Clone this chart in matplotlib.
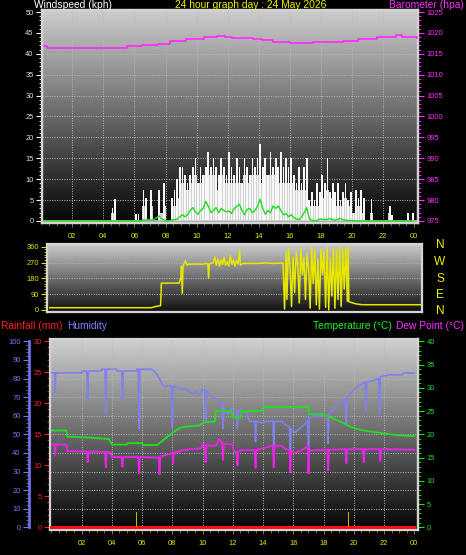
import numpy as np
import matplotlib
matplotlib.use('Agg')
import matplotlib.pyplot as plt
from matplotlib.ticker import MultipleLocator, FixedLocator

plt.rcParams['font.family'] = ['Liberation Sans', 'DejaVu Sans']

# ---------------- data ----------------
hour_ticks = [2, 4, 6, 8, 10, 12, 14, 16, 18, 20, 22, 24]
hour_labels = ['02', '04', '06', '08', '10', '12', '14', '16', '18', '20', '22', '00']

# 10-minute wind gust (kph), 6 per hour, 00h..23h
gust_kph = [
    0, 0, 0, 0, 0, 0,
    0, 0, 0, 0, 0, 0,
    0, 0, 0, 0, 0, 0,
    0, 0, 0, 0, 0, 0,
    0, 0, 0, 3.2, 5.2, 0,
    0, 0, 0, 0, 0, 0,
    1.6, 1.6, 0, 7.3, 5.5, 0,
    7.3, 0, 0, 7.3, 0, 9,
    0, 0, 5.5, 7.3, 10, 13,
    13, 11, 9, 11, 13, 15,
    9, 13, 11, 13, 16.5, 13,
    15, 13, 11, 15, 13, 11,
    16.5, 13, 11, 15, 13, 9,
    15, 13, 11, 15, 13, 15,
    18.5, 13, 15, 11, 16.5, 13,
    15, 13, 16.5, 13, 15, 13,
    15, 11, 9, 13, 9, 13,
    15, 5, 7, 5, 9, 7,
    11, 9, 15, 7, 9, 7,
    9, 5, 7, 9, 5, 7,
    2, 7.3, 5.5, 7.3, 5.5, 0,
    0, 5.3, 0, 0, 0, 0,
    0, 0, 3.5, 1.5, 0, 0,
    0, 0, 0, 1.8, 0, 1.8,
]
# 10-minute wind speed (kph)
wind_kph = [
    0, 0, 0, 0, 0, 0,
    0, 0, 0, 0, 0, 0,
    0, 0, 0, 0, 0, 0,
    0, 0, 0, 0, 0, 0,
    0, 0, 0, 1.8, 2, 0,
    0, 0, 0, 0, 0, 0,
    0, 0, 0, 3.5, 3.5, 0,
    3.5, 0, 0, 3.5, 1.8, 3.5,
    0, 0, 3.5, 3.5, 5.5, 7.3,
    9, 7.3, 7.3, 9, 9, 11,
    7.3, 9, 9, 11, 11, 9,
    11, 9, 7.3, 11, 9, 9,
    11, 9, 9, 11, 9, 7.3,
    11, 9, 9, 11, 9, 11,
    11, 9, 11, 9, 11, 9,
    11, 9, 11, 9, 11, 9,
    9, 7.3, 7.3, 9, 7.3, 9,
    7.3, 3.5, 3.5, 3.5, 5.5, 3.5,
    5.5, 5.5, 7.3, 3.5, 5.5, 3.5,
    5.5, 3.5, 3.5, 5.5, 3.5, 3.5,
    1.8, 3.5, 3.5, 3.5, 1.8, 0,
    0, 1.8, 0, 0, 0, 0,
    0, 0, 1.8, 0, 0, 0,
    0, 0, 0, 0, 0, 0,
]
# 10-minute average wind (kph)
avg_kph = [
    0, 0, 0, 0, 0, 0,
    0, 0, 0, 0, 0, 0,
    0, 0, 0, 0, 0, 0,
    0, 0, 0, 0, 0, 0,
    0, 0, 0, 0, 0, 0,
    0, 0, 0, 0, 0, 0,
    0, 0, 0, 0.3, 0.2, 0.3,
    0.2, 0.3, 0.8, 1.2, 0.5, 0.2,
    0, 0, 0.3, 0.3, 0.5, 1.0,
    1.5, 1.0, 1.5, 2.5, 3.2, 2.2,
    1.6, 2.5, 3.0, 4.7, 3.5, 2.0,
    2.5, 3.2, 2.0, 3.0, 2.5, 2.2,
    2.4, 1.8, 3.0, 3.5, 4.0, 2.5,
    1.5, 2.8, 3.0, 2.0, 2.5, 3.5,
    5.2, 3.0, 1.6, 2.5, 2.0, 3.6,
    3.0, 3.6, 2.5, 1.5, 1.8, 1.0,
    1.5, 0.8, 0.5, 0.3, 1.0, 2.0,
    3.2, 0.5, 0.2, 0.1, 0.1, 0.5,
    0.4, 0.3, 0.4, 0.6, 0.3, 0.2,
    0.4, 0.6, 0.3, 0.2, 0.1, 0.1,
    0.1, 0, 0, 0, 0, 0,
    0, 0, 0, 0, 0, 0,
    0, 0, 0, 0, 0, 0,
    0, 0, 0, 0, 0, 0,
]
ten_min_hours = np.arange(len(gust_kph)) / 6.0 + 1 / 12.0

baro_hours = [0.15, 0.4, 4.5, 5.0, 5.5, 6.5, 7.5, 8.3, 9.3, 10.5, 11.3, 11.8, 12.3,
              13.6, 14.2, 14.9, 16.0, 17.5, 18.8, 19.4, 20.4, 21.6, 22.8, 23.2, 24.2]
baro_hpa = [1016.8, 1016.5, 1016.5, 1016.5, 1016.8, 1017.0, 1017.4, 1018.0, 1018.6,
            1019.0, 1019.3, 1019.1, 1018.9, 1018.6, 1018.2, 1017.8, 1017.7, 1017.8,
            1017.8, 1018.0, 1018.6, 1019.1, 1019.4, 1019.0, 1018.9]

dir_hours = [0.05, 6.6, 6.9, 7.2, 7.25, 8.4, 8.5, 8.55, 8.6, 8.65, 8.8, 8.9, 9.0, 10.0,
             10.1, 10.25, 10.3, 10.35, 10.6, 10.7, 10.8, 10.9, 11.0, 11.1, 11.2, 11.3,
             11.4, 11.5, 11.6, 11.7, 11.8, 11.9, 12.0, 12.1, 12.2, 12.3, 12.35, 12.5,
             13.5, 14.0, 14.5, 15.1, 15.2,
             15.3, 15.35, 15.45, 15.55, 15.65, 15.75, 15.85, 15.95, 16.05, 16.15,
             16.25, 16.35, 16.45, 16.55, 16.65, 16.75, 16.85, 16.95, 17.05, 17.15,
             17.25, 17.35, 17.45, 17.55, 17.65, 17.75, 17.85, 17.95, 18.05, 18.15,
             18.25, 18.35, 18.45, 18.55, 18.65, 18.75, 18.85, 18.95, 19.05, 19.15,
             19.25, 19.3, 19.35, 19.8, 20.2, 24.0]
dir_deg = [13, 13, 20, 25, 153, 153, 180, 250, 95, 250, 280, 255, 261, 261,
           265, 262, 180, 262, 270, 300, 255, 290, 250, 285, 260, 300,
           255, 275, 250, 310, 260, 285, 250, 280, 262, 340, 255, 265,
           265, 268, 265, 268, 5,
           330, 60, 350, 250, 20, 300, 100, 330, 270, 40,
           350, 200, 300, 60, 320, 240, 10, 360, 150, 340,
           30, 290, 5, 350, 200, 330, 15, 355, 0, 300,
           80, 350, 10, 340, 60, 360, 20, 345, 120, 355,
           50, 360, 47, 35, 30, 30]

hum_hours = [0.0, 0.22, 0.25, 0.28, 2.0, 2.05, 2.35, 2.4, 2.45, 3.3, 3.35, 3.55, 3.6, 3.65,
             4.3, 4.35, 4.65, 4.7, 4.75, 5.6, 5.65, 5.75, 5.8, 5.85, 6.6, 6.8, 7.0, 7.2,
             7.4, 7.95, 8.0, 8.05, 8.4, 8.9, 9.1, 9.4, 9.6, 9.8, 10.0, 10.15, 10.2, 10.25,
             10.5, 10.9, 11.2, 11.3, 11.35, 11.4, 11.5, 11.7, 11.9, 12.2, 12.3, 12.35,
             12.6, 12.9, 13.1, 13.45, 13.5, 13.55, 14.0, 14.2, 14.65, 14.7, 14.75, 15.2,
             15.5, 15.75, 15.8, 15.85, 16.1, 16.4, 16.7, 16.95, 17.0, 17.05, 17.3, 17.8,
             18.25, 18.3, 18.35, 18.7, 19.1, 19.45, 19.5, 19.55, 20.0, 20.5, 20.75, 20.8,
             20.85, 21.3, 21.65, 21.7, 21.75, 22.4, 23.2, 23.3, 24.0]
hum_pct = [83, 83, 72.5, 83, 83, 84, 84, 69, 84, 84, 85, 85, 61, 85,
           85, 84, 84, 69, 84, 84, 85, 85, 53, 85, 85, 84, 82, 79,
           76, 76, 54, 76, 74.5, 74.5, 73, 72, 73, 71, 74, 74, 57, 73,
           71, 69, 67, 66, 53, 65, 62, 61, 64, 63, 53, 63,
           62, 62, 57, 57, 46, 57, 56, 57, 57, 43, 57, 57,
           55, 54, 36, 53, 51, 53, 55, 57, 39, 59, 60, 60,
           60, 45, 61, 64, 67, 69, 55, 70, 74, 77, 78, 62,
           78, 79, 80, 61, 81, 82, 82, 83, 83]

temp_hours = [0.0, 1.0, 1.05, 2.5, 3.8, 4.0, 5.0, 5.05, 6.0, 6.05, 7.0, 7.5, 8.0, 8.5,
              9.0, 9.8, 10.1, 10.8, 10.85, 11.9, 12.0, 12.5, 12.6, 13.9, 14.0, 17.0,
              17.05, 17.8, 18.5, 19.2, 19.8, 20.5, 21.5, 22.9, 24.0]
temp_c = [20.8, 20.8, 19.5, 19.3, 19.0, 17.8, 17.8, 18.1, 18.1, 17.7, 17.7, 19.0, 20.3, 21.4,
          21.7, 21.9, 22.6, 22.7, 25.0, 25.0, 23.7, 23.6, 25.0, 25.0, 25.9, 25.9,
          24.3, 24.4, 23.6, 22.6, 21.6, 20.9, 20.4, 19.8, 19.6]

dew_hours = [0.0, 0.22, 0.25, 0.28, 1.0, 1.05, 2.35, 2.4, 2.45, 3.55, 3.6, 3.65, 3.9, 4.0,
             4.65, 4.7, 4.75, 5.75, 5.8, 5.85, 7.1, 7.15, 7.2, 7.6, 8.0, 8.05, 8.1, 8.6,
             9.2, 9.9, 10.0, 10.15, 10.2, 10.25, 10.6, 10.9, 11.1, 11.3, 11.35, 11.4,
             11.6, 12.0, 12.05, 12.25, 12.3, 12.35, 12.6, 13.45, 13.5, 13.55, 14.2,
             14.65, 14.7, 14.75, 15.2, 15.5, 15.75, 15.8, 15.85, 16.1, 16.5, 16.95,
             17.0, 17.05, 18.25, 18.3, 18.35, 19.45, 19.5, 19.55, 20.6, 20.65, 20.7,
             21.7, 21.75, 21.8, 24.0]
dew_c = [17.8, 17.8, 15.6, 17.8, 17.8, 16.4, 16.3, 14.0, 16.3, 16.2, 12.9, 16.2, 16.2, 15.1,
         15.1, 13.0, 15.1, 15.1, 11.6, 15.1, 15.0, 11.4, 15.2, 15.6, 16.0, 13.8, 16.1, 16.5,
         16.8, 17.0, 18.0, 17.6, 14.0, 17.7, 17.5, 17.6, 19.0, 18.0, 14.5, 18.0,
         17.9, 17.8, 16.3, 16.2, 13.3, 16.3, 16.6, 16.6, 12.8, 16.6, 17.2,
         17.6, 12.9, 17.5, 17.6, 16.8, 16.6, 11.8, 16.4, 16.0, 16.5, 17.4,
         11.6, 16.5, 16.7, 12.2, 16.7, 16.8, 13.8, 16.8, 16.8, 14.0, 16.8,
         16.8, 14.3, 16.8, 16.7]

rain_hours = [0.0, 24.0]
rain_mm = [0.0, 0.0]
rate_hours = [5.62, 19.66]
rate_vals = [2.5, 2.5]

# ---------------- figure ----------------
W, H = 466, 555
fig = plt.figure(figsize=(W / 100, H / 100), dpi=100, facecolor='black')


def rect(x0, y0, x1, y1):
    return [x0 / W, 1 - y1 / H, (x1 - x0) / W, (y1 - y0) / H]


def gradient(ax, top=0.80, bottom=0.02):
    g = np.linspace(bottom, top, 256).reshape(-1, 1)
    ax.imshow(g, extent=(0, 1, 0, 1), transform=ax.transAxes, origin='lower',
              cmap='gray', vmin=0, vmax=1, aspect='auto', zorder=0, interpolation='bilinear')


def frame(ax, color='#d4d4d4', lw=1.6):
    for s in ax.spines.values():
        s.set_color(color)
        s.set_linewidth(lw)


GRID = dict(color='#b8b8b8', lw=0.7, ls=(0, (1, 1.5)), zorder=1)
TS = 5.4  # tick label size

# ---------- panel 1 : wind + barometer ----------
ax1 = fig.add_axes(rect(42, 10, 418, 223))
ax1.set_facecolor('black')
gradient(ax1)
for y in range(5, 50, 5):
    ax1.axhline(y, **GRID)
for x in hour_ticks[:-1]:
    ax1.axvline(x, **GRID)
ax1.bar(ten_min_hours, wind_kph, width=1 / 6, color='#d2d2d2', zorder=2, linewidth=0)
ax1.bar(ten_min_hours, gust_kph, width=0.11, color='#f8f8f8', zorder=3, linewidth=0)
ax1.axhline(0, color='#c8c8c8', lw=1.2, zorder=3)
ax1.axhline(-0.4, color='#a8e8a8', lw=1.2, zorder=3)
ax1.plot(ten_min_hours, avg_kph, color='#18e018', lw=1.0, zorder=4)
ax1.set_xlim(0.05, 24.24)
ax1.set_ylim(-0.48, 50.48)
ax1.yaxis.set_major_locator(MultipleLocator(5))
ax1.yaxis.set_minor_locator(MultipleLocator(1))
ax1.tick_params(axis='y', which='major', colors='white', labelcolor='#d4e6ff',
                labelsize=TS, length=4, width=0.8, pad=2)
ax1.tick_params(axis='y', which='minor', colors='white', length=2, width=0.6)
ax1.xaxis.set_major_locator(FixedLocator(hour_ticks))
ax1.set_xticklabels(hour_labels)
ax1.xaxis.set_minor_locator(MultipleLocator(0.5))
ax1.tick_params(axis='x', which='major', colors='#909090', labelcolor='#e8e800',
                labelsize=TS, length=3, width=0.6, pad=4)
ax1.tick_params(axis='x', which='minor', colors='#909090', length=2, width=0.5)
frame(ax1)

ax1b = ax1.twinx()
ax1b.plot(baro_hours, baro_hpa, color='#ff28ff', lw=1.2, drawstyle='steps-post', zorder=5)
ax1b.set_ylim(974.52, 1025.48)
ax1b.yaxis.set_major_locator(MultipleLocator(5))
ax1b.yaxis.set_minor_locator(MultipleLocator(1))
ax1b.tick_params(axis='y', which='major', colors='#ff30ff', labelcolor='#ff30ff',
                 labelsize=TS, length=4, width=0.8, pad=2)
ax1b.tick_params(axis='y', which='minor', colors='#ff30ff', length=2, width=0.6)
frame(ax1b)

# ---------- panel 2 : wind direction ----------
ax2 = fig.add_axes(rect(47.3, 244.3, 421.7, 312.3))
ax2.set_facecolor('black')
gradient(ax2, top=0.80, bottom=0.06)
for y in (90, 180, 270, 360):
    ax2.axhline(y, **GRID)
ax2.plot(dir_hours, dir_deg, color='#e6e600', lw=1.1, zorder=3)
ax2.set_xlim(-0.11, 24.05)
ax2.set_ylim(-13.1, 373.7)
ax2.yaxis.set_major_locator(FixedLocator([0, 90, 180, 270, 360]))
ax2.yaxis.set_minor_locator(MultipleLocator(15))
ax2.tick_params(axis='y', which='major', colors='#e6e600', labelcolor='#e6e600',
                labelsize=TS, length=4, width=0.8, pad=2)
ax2.tick_params(axis='y', which='minor', colors='#e6e600', length=2, width=0.6)
ax2.set_xticks([])
frame(ax2)
for lab, y in zip(['N', 'W', 'S', 'E', 'N'], [245, 262, 278.5, 295, 311]):
    fig.text(440 / W, 1 - y / H, lab, color='#f0f000', fontsize=8.6,
             ha='center', va='center')

# ---------- panel 3 : humidity / temperature / dew point / rain ----------
ax3 = fig.add_axes(rect(50, 339, 418, 530))
ax3.set_facecolor('black')
gradient(ax3, top=0.81, bottom=0.02)
for y in range(10, 100, 10):
    ax3.axhline(y, **GRID)
for x in hour_ticks[:-1]:
    ax3.axvline(x, **GRID)
ax3.plot(hum_hours, hum_pct, color='#8080ee', lw=1.2, zorder=3)
ax3.set_xlim(-0.09, 24.24)
ax3.set_ylim(-1.45, 101.24)
ax3.spines['left'].set_position(('outward', 21 * 0.72))
ax3.spines['left'].set_bounds(0, 100)
ax3.spines['left'].set_color('#7070e0')
ax3.spines['left'].set_linewidth(2)
for s in ('top', 'bottom', 'right'):
    ax3.spines[s].set_color('#d4d4d4')
    ax3.spines[s].set_linewidth(1.6)
ax3.yaxis.set_major_locator(MultipleLocator(10))
ax3.yaxis.set_minor_locator(MultipleLocator(2))
ax3.tick_params(axis='y', which='major', colors='#7878f0', labelcolor='#7878f0',
                labelsize=TS, length=4, width=0.8, pad=2)
ax3.tick_params(axis='y', which='minor', colors='#7878f0', length=2, width=0.6)
ax3.xaxis.set_major_locator(FixedLocator(hour_ticks))
ax3.set_xticklabels(hour_labels)
ax3.xaxis.set_minor_locator(MultipleLocator(0.5))
ax3.tick_params(axis='x', which='major', colors='#909090', labelcolor='#e8e800',
                labelsize=TS, length=3, width=0.6, pad=4)
ax3.tick_params(axis='x', which='minor', colors='#909090', length=2, width=0.5)

axT = ax3.twinx()
axT.plot(temp_hours, temp_c, color='#20e020', lw=1.3, zorder=4)
axT.plot(dew_hours, dew_c, color='#f020f0', lw=1.3, zorder=4)
axT.set_ylim(-0.58, 40.5)
axT.yaxis.set_major_locator(MultipleLocator(5))
axT.yaxis.set_minor_locator(MultipleLocator(1))
axT.tick_params(axis='y', which='major', colors='#20e020', labelcolor='#20e020',
                labelsize=TS, length=4, width=0.8, pad=2)
axT.tick_params(axis='y', which='minor', colors='#20e020', length=2, width=0.6)
for s in axT.spines.values():
    s.set_visible(False)
axT.spines['right'].set_visible(True)
axT.spines['right'].set_color('#d4d4d4')
axT.spines['right'].set_linewidth(1.6)

axR = ax3.twinx()
axR.plot(rain_hours, rain_mm, color='#ff1010', lw=2.2, zorder=5)
axR.bar(rate_hours, rate_vals, width=0.07, color='#c8b400', zorder=5, linewidth=0)
axR.set_ylim(-0.44, 30.37)
axR.yaxis.tick_left()
for s in axR.spines.values():
    s.set_visible(False)
axR.spines['left'].set_visible(True)
axR.spines['left'].set_color('#d4d4d4')
axR.spines['left'].set_linewidth(1.6)
axR.yaxis.set_major_locator(MultipleLocator(5))
axR.yaxis.set_minor_locator(MultipleLocator(1))
axR.tick_params(axis='y', which='major', colors='#ff2020', labelcolor='#ff2020',
                labelsize=TS, length=4, width=0.8, pad=2)
axR.tick_params(axis='y', which='minor', colors='#ff2020', length=2, width=0.6)

# ---------- header texts ----------
HS = 7.4
fig.text(34 / W, 1 - 5 / H, 'Windspeed (kph)', color='white', fontsize=HS, ha='left', va='center')
fig.text(251 / W, 1 - 5 / H, '24 hour graph day : 24 May 2026', color='#f0f000', fontsize=HS,
         ha='center', va='center')
fig.text(464 / W, 1 - 5 / H, 'Barometer (hpa)', color='#ff30ff', fontsize=HS, ha='right', va='center')
fig.text(1 / W, 1 - 326 / H, 'Rainfall (mm)', color='#ff2020', fontsize=HS, ha='left', va='center')
fig.text(67 / W, 1 - 326 / H, 'Humidity', color='#8080ff', fontsize=HS, ha='left', va='center')
fig.text(313 / W, 1 - 326 / H, 'Temperature (°C)', color='#20f020', fontsize=HS, ha='left', va='center')
fig.text(464 / W, 1 - 326 / H, 'Dew Point (°C)', color='#ff30ff', fontsize=HS, ha='right', va='center')

fig.savefig('out.png', dpi=100, facecolor='black')
